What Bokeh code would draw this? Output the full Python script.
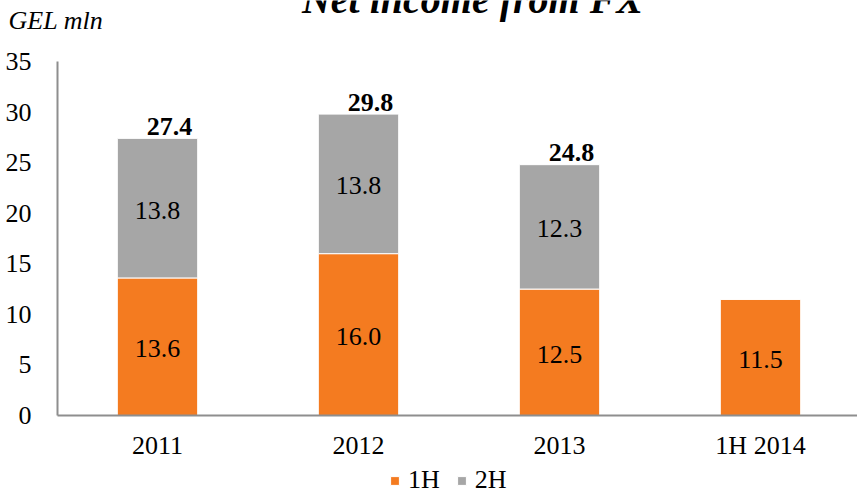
from bokeh.plotting import figure
from bokeh.models import ColumnDataSource, Range1d, Label, Legend, LegendItem, FixedTicker
from bokeh.core.properties import value
from bokeh.embed import file_html
from bokeh.resources import INLINE

# ---- data ----
categories = ["2011", "2012", "2013", "1H 2014"]
h1 = [13.6, 16.0, 12.5, 11.5]
h2 = [13.8, 13.8, 12.3, 0.0]
y_ticks = [0, 5, 10, 15, 20, 25, 30, 35]
y_max = 35
title_text = "Net income from FX"
unit_text = "GEL mln"
series_names = ["1H", "2H"]

ORANGE = "#F47B20"
GRAY = "#A6A6A6"
AXIS_GRAY = "#8E8E8E"
FONT = "Liberation Serif"
FS = "26px"

# ---- layout (pixels on the canvas) ----
W, H = 857, 495
AXIS_X = 57        # x of the value axis line
FIRST_CX = 157     # centre of first category
CAT_STEP = 201     # distance between category centres
TOP_Y = 61         # pixel of y_max
ZERO_Y = 415       # pixel of 0

ppu = (ZERO_Y - TOP_Y) / y_max
xs = list(range(len(categories)))
totals = [a + b for a, b in zip(h1, h2)]
src = ColumnDataSource(dict(
    x=xs, h1=h1, h2=h2, total=totals,
    h1_mid=[a / 2 for a in h1],
    h2_mid=[a + b / 2 for a, b in zip(h1, h2)],
    h1_lbl=[f"{a:.1f}" for a in h1],
    h2_lbl=[f"{b:.1f}" if b > 0 else "" for b in h2],
    tot_lbl=[f"{t:.1f}" if b > 0 else "" for t, b in zip(totals, h2)],
))

x_start = -FIRST_CX / CAT_STEP
x_end = (W - FIRST_CX) / CAT_STEP
y_start = -(H - ZERO_Y) / ppu
y_end = y_max + TOP_Y / ppu
axis_x = (AXIS_X - FIRST_CX) / CAT_STEP

p = figure(x_range=Range1d(x_start, x_end), y_range=Range1d(y_start, y_end),
           width=W, height=H, output_backend="svg", toolbar_location=None,
           min_border=0, title_location=None)
p.outline_line_color = None
p.xgrid.grid_line_color = None
p.ygrid.grid_line_color = None

rs = p.vbar_stack(["h1", "h2"], x="x", width=0.4, source=src,
                  color=[ORANGE, GRAY], line_color="white", line_width=1)

# axes
for ax in (p.xaxis[0], p.yaxis[0]):
    ax.axis_line_color = AXIS_GRAY
    ax.axis_line_width = 2
    ax.major_tick_line_color = None
    ax.minor_tick_line_color = None
    ax.major_label_text_font = FONT
    ax.major_label_text_font_size = FS
    ax.major_label_text_color = "black"
p.yaxis.ticker = FixedTicker(ticks=y_ticks)
p.yaxis.bounds = (0, y_max)
p.yaxis.fixed_location = axis_x
p.yaxis.major_label_standoff = 20
p.xaxis.ticker = FixedTicker(ticks=xs)
p.xaxis.major_label_overrides = {i: c for i, c in zip(xs, categories)}
p.xaxis.bounds = (axis_x, x_end)
p.xaxis.fixed_location = 0
p.xaxis.major_label_standoff = 9

# segment labels
for col, lbl in (("h1_mid", "h1_lbl"), ("h2_mid", "h2_lbl")):
    p.text(x="x", y=col, text=lbl, source=src, text_align="center",
           text_baseline="middle", y_offset=2, text_font=value(FONT),
           text_font_size=FS, text_color="black")
# totals
p.text(x="x", y="total", text="tot_lbl", source=src, text_align="center",
       text_baseline="alphabetic", x_offset=12, y_offset=-12, text_font=value(FONT),
       text_font_size=FS, text_font_style="bold", text_color="black")

# title & unit
p.add_layout(Label(x=472, y=H + 1, x_units="screen", y_units="screen",
                   text=title_text, text_font=FONT, text_font_size="40px",
                   text_font_style="bold italic", text_align="center",
                   text_baseline="alphabetic", text_color="black"))
p.add_layout(Label(x=8, y=H - 20, x_units="screen", y_units="screen",
                   text=unit_text, text_font=FONT, text_font_size=FS,
                   text_font_style="italic", text_align="left",
                   text_baseline="alphabetic", text_color="black"))

legend = Legend(items=[LegendItem(label=series_names[0], renderers=[rs[0]]),
                       LegendItem(label=series_names[1], renderers=[rs[1]])],
                orientation="horizontal", location=(389, 0),
                label_text_font=FONT, label_text_font_size=FS,
                label_text_color="black",
                glyph_width=11, glyph_height=11, label_standoff=8, spacing=16,
                padding=0, margin=0, border_line_color=None,
                background_fill_alpha=0)
p.add_layout(legend)

open("out.html", "w").write(file_html(p, INLINE))
